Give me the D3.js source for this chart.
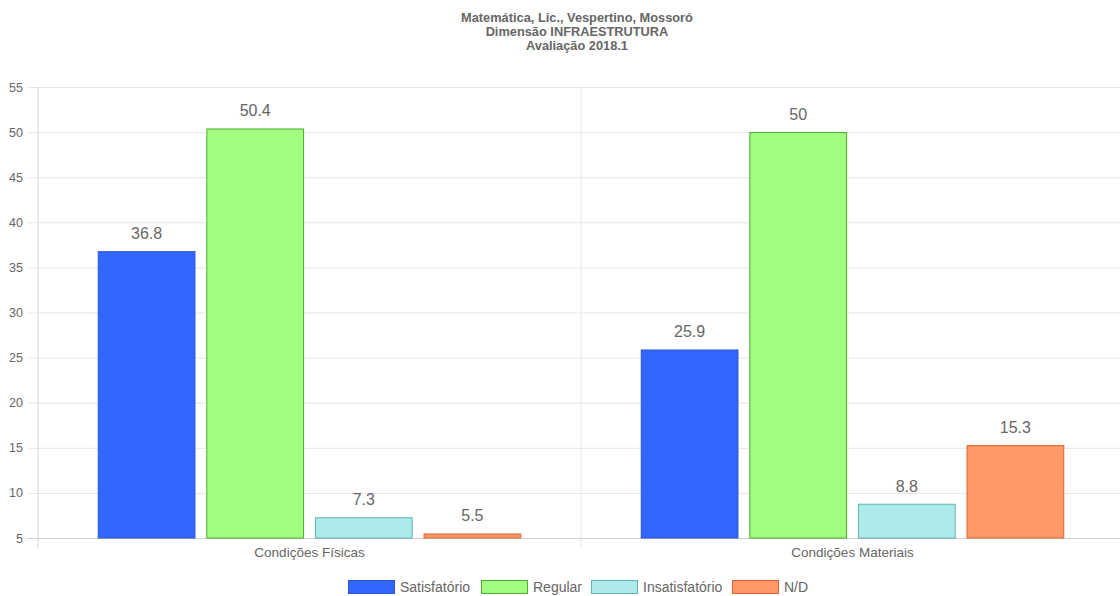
<!DOCTYPE html>
<html>
<head>
<meta charset="utf-8">
<script src="https://cdn.jsdelivr.net/npm/d3@7"></script>
<style>
  html, body { margin: 0; padding: 0; background: #fff; }
  svg { display: block; font-family: "Helvetica Neue", Helvetica, Arial, "Liberation Sans", sans-serif; }
</style>
</head>
<body>
<svg id="chart" width="1120" height="596"></svg>
<script>
const titleLines = ["Matemática, Lic., Vespertino, Mossoró", "Dimensão INFRAESTRUTURA", "Avaliação 2018.1"];
const categories = ["Condições Físicas", "Condições Materiais"];
const seriesNames = ["Satisfatório", "Regular", "Insatisfatório", "N/D"];
const satisfatorio = [36.8, 25.9];
const regular = [50.4, 50];
const insatisfatorio = [7.3, 8.8];
const nd = [5.5, 15.3];
const yTicks = [5, 10, 15, 20, 25, 30, 35, 40, 45, 50, 55];

const seriesValues = [satisfatorio, regular, insatisfatorio, nd];
const fills = ["#3366ff", "#a0ff80", "#aeeaea", "#ff9966"];
const strokes = ["#2a55d8", "#4cae2c", "#5fb3b3", "#e0622c"];
const fontStack = "\"Helvetica Neue\", Helvetica, Arial, \"Liberation Sans\", sans-serif";

const svg = d3.select("#chart");
const plotLeft = 38, plotRight = 1124, plotTop = 87, plotBottom = 538;

const x0 = d3.scaleBand().domain(categories).range([plotLeft, plotRight]).paddingInner(0).paddingOuter(0);
const x1 = d3.scaleBand().domain(seriesNames)
  .range([0, x0.bandwidth() * 0.8]).paddingInner(0.1).paddingOuter(0.05);
const y = d3.scaleLinear().domain([5, 55]).range([plotBottom, plotTop]);

// title
const title = svg.append("g");
titleLines.forEach((t, i) => {
  title.append("text")
    .attr("x", 577).attr("y", 22 + i * 14)
    .attr("text-anchor", "middle")
    .attr("font-size", 12.8).attr("font-weight", "bold")
    .attr("fill", "#666").text(t);
});

// horizontal grid + y ticks
const yAxis = d3.axisLeft(y).tickValues(yTicks).tickSize(11).tickPadding(4);
const gy = svg.append("g").attr("transform", `translate(${plotLeft},0)`).call(yAxis);
gy.select(".domain").remove();
gy.selectAll(".tick line").attr("x1", -11).attr("x2", plotRight - plotLeft)
  .attr("stroke", d => d === 5 ? "#cfcfcf" : "#e6e6e6");
gy.selectAll(".tick text").attr("fill", "#666").attr("font-size", 12.5)
  .attr("font-family", fontStack);

// vertical grid at category boundaries
const bounds = [plotLeft].concat(categories.map(c => x0(c) + x0.bandwidth()));
svg.append("g").selectAll("line").data(bounds).join("line")
  .attr("x1", d => d).attr("x2", d => d)
  .attr("y1", plotTop).attr("y2", plotBottom + 10)
  .attr("stroke", (d, i) => i === 0 ? "#d6d6d6" : "#e6e6e6");

// x labels
const xAxis = d3.axisBottom(x0).tickSize(0).tickPadding(9);
const gx = svg.append("g").attr("transform", `translate(0,${plotBottom})`).call(xAxis);
gx.select(".domain").remove();
gx.selectAll(".tick text").attr("fill", "#666").attr("font-size", 13.5)
  .attr("font-family", fontStack);

// bars
const groups = svg.append("g").selectAll("g").data(categories).join("g")
  .attr("transform", c => `translate(${x0(c) + x0.bandwidth() * 0.1},0)`);
groups.each(function(c, ci) {
  const g = d3.select(this);
  seriesNames.forEach((s, si) => {
    const v = seriesValues[si][ci];
    g.append("rect")
      .attr("x", x1(s) + 0.5).attr("width", x1.bandwidth() - 1)
      .attr("y", y(v) + 0.5).attr("height", y(5) - y(v) - 0.5)
      .attr("fill", fills[si]).attr("stroke", strokes[si]).attr("stroke-width", 1);
    g.append("text")
      .attr("x", x1(s) + x1.bandwidth() / 2).attr("y", y(v) - 12)
      .attr("text-anchor", "middle").attr("font-size", 16)
      .attr("fill", "#666").text(String(v));
  });
});

// legend
const legendItems = [
  { name: seriesNames[0], x: 348 },
  { name: seriesNames[1], x: 481 },
  { name: seriesNames[2], x: 591 },
  { name: seriesNames[3], x: 732 }
];
const lg = svg.append("g");
legendItems.forEach((it, i) => {
  lg.append("rect").attr("x", it.x + 0.5).attr("y", 580.5).attr("width", 46).attr("height", 13)
    .attr("fill", fills[i]).attr("stroke", strokes[i]);
  lg.append("text").attr("x", it.x + 52).attr("y", 592).attr("font-size", 14)
    .attr("fill", "#666").text(it.name);
});
</script>
</body>
</html>
